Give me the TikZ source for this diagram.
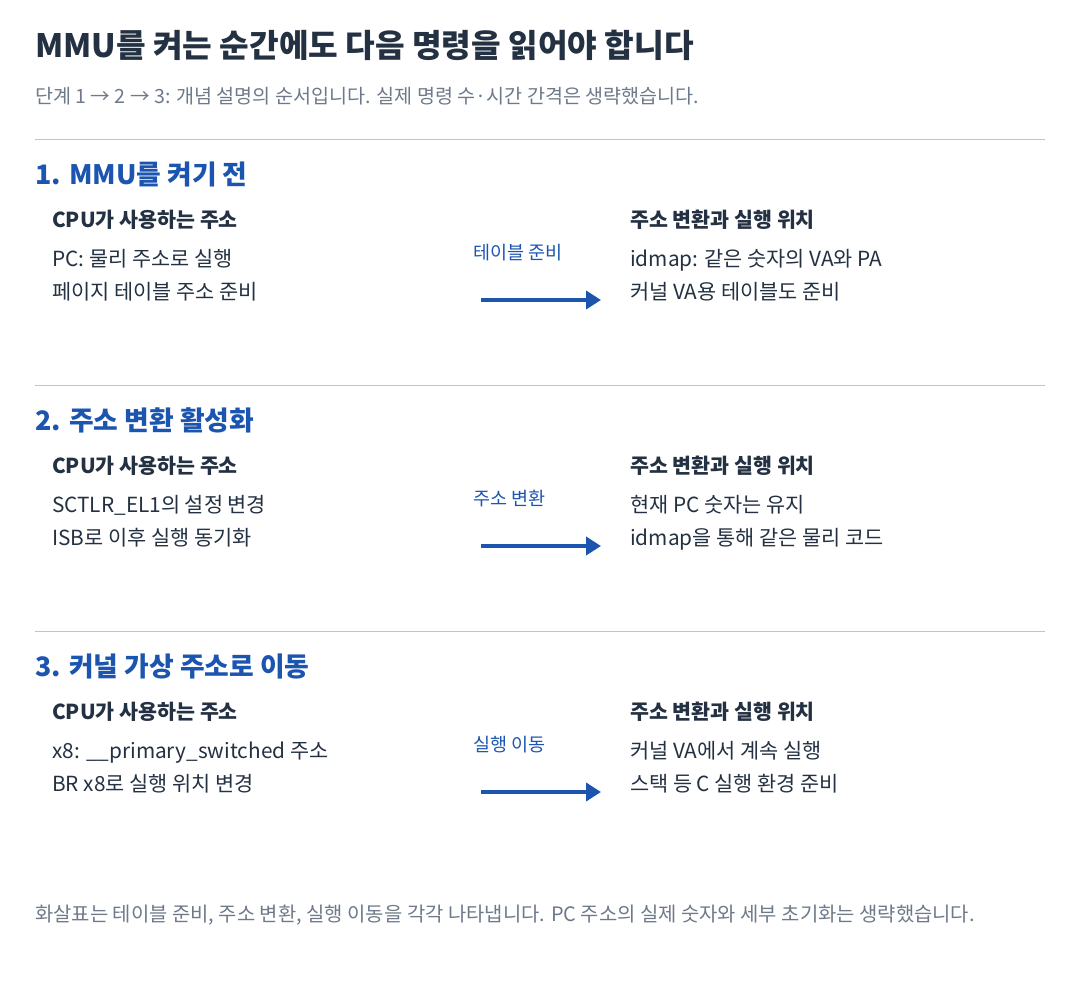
\documentclass[tikz,border=0pt]{standalone}
\usepackage{fontspec}
\setmainfont{Noto Sans CJK KR}
\usetikzlibrary{arrows.meta}
\definecolor{inkdark}{HTML}{243142}
\definecolor{inkgray}{HTML}{6E7A8A}
\definecolor{inkblue}{HTML}{1B55B0}
\definecolor{rulegray}{HTML}{C4C4C4}
\tikzset{
  txt/.style={anchor=base west, inner sep=0pt},
  titletext/.style={txt, text=inkdark, font=\fontsize{32.2}{38}\selectfont\bfseries},
  notetext/.style={txt, text=inkgray, font=\fontsize{19.6}{23}\selectfont},
  foottext/.style={notetext, font=\fontsize{19.9}{23}\selectfont},
  headtext/.style={txt, text=inkblue, font=\fontsize{26.8}{31}\selectfont\bfseries},
  subtext/.style={txt, text=inkdark, font=\fontsize{20.6}{24}\selectfont\bfseries},
  bodytext/.style={txt, text=inkdark, font=\fontsize{20.8}{24}\selectfont},
  steplabel/.style={txt, text=inkblue, font=\fontsize{18.5}{22}\selectfont},
  sepline/.style={draw=rulegray, line width=1pt},
  steparrow/.style={draw=inkblue, line width=4pt, -{Triangle[length=15pt,width=18pt]}}
}
\begin{document}
\begin{tikzpicture}[x=1pt,y=-1pt]
\useasboundingbox[fill=white] (0,0) rectangle (1080,990);
%-------->title<--------------
\node[titletext] (title) at (35,58) {MMU를 켜는 순간에도 다음 명령을 읽어야 합니다};
\node[notetext] (subtitle) at (35,103) {단계 1 → 2 → 3: 개념 설명의 순서입니다. 실제 명령 수·시간 간격은 생략했습니다.};

%-------->step 1<--------------
\draw[sepline] (35,139) -- (1045,139);
\node[headtext] (head1) at (35,184) {1. MMU를 켜기 전};
\node[subtext] (cpu1) at (52,227) {CPU가 사용하는 주소};
\node[bodytext] (cpu1a) at (52,266) {PC: 물리 주소로 실행};
\node[bodytext] (cpu1b) at (52,299) {페이지 테이블 주소 준비};
\node[steplabel] (lab1) at (473,259) {테이블 준비};
\coordinate (arr1s) at (481,300);
\coordinate (arr1e) at (601,300);
\draw[steparrow] (arr1s) -- (arr1e);
\node[subtext] (map1) at (630,227) {주소 변환과 실행 위치};
\node[bodytext] (map1a) at (630,266) {idmap: 같은 숫자의 VA와 PA};
\node[bodytext] (map1b) at (630,299) {커널 VA용 테이블도 준비};

%-------->step 2<--------------
\draw[sepline] (35,385) -- (1045,385);
\node[headtext] (head2) at (35,430) {2. 주소 변환 활성화};
\node[subtext] (cpu2) at (52,473) {CPU가 사용하는 주소};
\node[bodytext] (cpu2a) at (52,512) {SCTLR\_EL1의 설정 변경};
\node[bodytext] (cpu2b) at (52,545) {ISB로 이후 실행 동기화};
\node[steplabel] (lab2) at (473,505) {주소 변환};
\coordinate (arr2s) at (481,546);
\coordinate (arr2e) at (601,546);
\draw[steparrow] (arr2s) -- (arr2e);
\node[subtext] (map2) at (630,473) {주소 변환과 실행 위치};
\node[bodytext] (map2a) at (630,512) {현재 PC 숫자는 유지};
\node[bodytext] (map2b) at (630,545) {idmap을 통해 같은 물리 코드};

%-------->step 3<--------------
\draw[sepline] (35,631) -- (1045,631);
\node[headtext] (head3) at (35,676) {3. 커널 가상 주소로 이동};
\node[subtext] (cpu3) at (52,719) {CPU가 사용하는 주소};
\node[bodytext] (cpu3a) at (52,758) {x8: \_\_primary\_switched 주소};
\node[bodytext] (cpu3b) at (52,791) {BR x8로 실행 위치 변경};
\node[steplabel] (lab3) at (473,751) {실행 이동};
\coordinate (arr3s) at (481,792);
\coordinate (arr3e) at (601,792);
\draw[steparrow] (arr3s) -- (arr3e);
\node[subtext] (map3) at (630,719) {주소 변환과 실행 위치};
\node[bodytext] (map3a) at (630,758) {커널 VA에서 계속 실행};
\node[bodytext] (map3b) at (630,791) {스택 등 C 실행 환경 준비};

%-------->footer<--------------
\node[foottext] (footer) at (35,921) {화살표는 테이블 준비, 주소 변환, 실행 이동을 각각 나타냅니다. PC 주소의 실제 숫자와 세부 초기화는 생략했습니다.};
\end{tikzpicture}
\end{document}
